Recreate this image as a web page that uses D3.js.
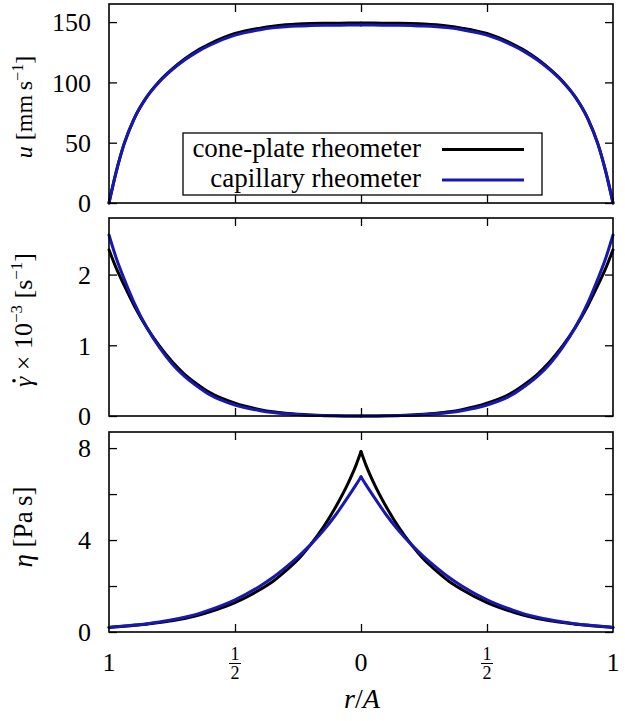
<!DOCTYPE html>
<html>
<head>
<meta charset="utf-8">
<script src="https://cdn.jsdelivr.net/npm/d3@7"></script>
<style>
  html, body { margin: 0; padding: 0; background: #fff; }
  svg { display: block; }
</style>
</head>
<body>
<svg id="chart" width="625" height="721" font-family="'Liberation Serif', 'DejaVu Serif', serif"></svg>
<script>
// ---------- DATA ----------
// signed position r/A: left edge = wall (1), centre = 0, right edge = wall (1)
const xs = [-1, -0.97, -0.94, -0.9, -0.85, -0.8, -0.75, -0.7, -0.65, -0.6, -0.5, -0.4, -0.35, -0.3, -0.25, -0.2, -0.15, -0.1, -0.05, -0.02, 0,
             0.02, 0.05, 0.1, 0.15, 0.2, 0.25, 0.3, 0.35, 0.4, 0.5, 0.6, 0.65, 0.7, 0.75, 0.8, 0.85, 0.9, 0.94, 0.97, 1];

// velocity u [mm/s]
const uCone = [0, 27, 49, 70, 88, 101, 111, 119.5, 126.5, 132, 140.5, 145, 146.6, 147.7, 148.4, 148.8, 149, 149.1, 149.2, 149.2, 149.2,
               149.2, 149.2, 149.1, 149, 148.8, 148.4, 147.7, 146.6, 145, 140.5, 132, 126.5, 119.5, 111, 101, 88, 70, 49, 27, 0];
const uCap  = [0, 27, 49, 70, 88, 100.5, 110.3, 118.5, 125.3, 130.8, 139.2, 143.7, 145.2, 146.2, 146.8, 147.1, 147.3, 147.4, 147.5, 147.5, 147.5,
               147.5, 147.5, 147.4, 147.3, 147.1, 146.8, 146.2, 145.2, 143.7, 139.2, 130.8, 125.3, 118.5, 110.3, 100.5, 88, 70, 49, 27, 0];

// shear rate gamma-dot x 10^-3 [1/s]
const gCone = [2.35, 2.08, 1.85, 1.56, 1.25, 0.99, 0.77, 0.59, 0.45, 0.33, 0.18, 0.09, 0.06, 0.04, 0.025, 0.015, 0.008, 0.003, 0.001, 0, 0,
               0, 0.001, 0.003, 0.008, 0.015, 0.025, 0.04, 0.06, 0.09, 0.18, 0.33, 0.45, 0.59, 0.77, 0.99, 1.25, 1.56, 1.85, 2.08, 2.35];
const gCap  = [2.56, 2.22, 1.94, 1.60, 1.25, 0.97, 0.74, 0.56, 0.42, 0.30, 0.155, 0.075, 0.05, 0.032, 0.02, 0.01, 0.005, 0.002, 0.001, 0, 0,
               0, 0.001, 0.002, 0.005, 0.01, 0.02, 0.032, 0.05, 0.075, 0.155, 0.30, 0.42, 0.56, 0.74, 0.97, 1.25, 1.60, 1.94, 2.22, 2.56];

// viscosity eta [Pa s]
const eCone = [0.2, 0.23, 0.25, 0.29, 0.34, 0.41, 0.49, 0.59, 0.72, 0.88, 1.28, 1.85, 2.2, 2.65, 3.15, 3.8, 4.55, 5.45, 6.5, 7.25, 7.85,
               7.25, 6.5, 5.45, 4.55, 3.8, 3.15, 2.65, 2.2, 1.85, 1.28, 0.88, 0.72, 0.59, 0.49, 0.41, 0.34, 0.29, 0.25, 0.23, 0.2];
const eCap  = [0.2, 0.23, 0.26, 0.3, 0.36, 0.44, 0.53, 0.64, 0.78, 0.96, 1.4, 2.0, 2.37, 2.8, 3.27, 3.8, 4.4, 5.1, 5.9, 6.4, 6.75,
               6.4, 5.9, 5.1, 4.4, 3.8, 3.27, 2.8, 2.37, 2.0, 1.4, 0.96, 0.78, 0.64, 0.53, 0.44, 0.36, 0.3, 0.26, 0.23, 0.2];

const seriesNames = ["cone-plate rheometer", "capillary rheometer"];
const seriesColors = ["#000000", "#1818b0"];

const xTicks = [-1, -0.5, 0, 0.5, 1];
const xTickLabels = ["1", "1/2", "0", "1/2", "1"];

const uTicks = [0, 50, 100, 150];
const gTicks = [0, 1, 2];
const eTicks = [0, 2, 4, 6, 8];
const eTickLabels = ["0", "", "4", "", "8"];

// ---------- LAYOUT ----------
const svg = d3.select("#chart");
const L = 109, R = 613;
const x = d3.scaleLinear().domain([-1, 1]).range([L, R]);

const panels = [
  { top: 4,   bottom: 203, domain: [0, 165], ticks: uTicks, labels: uTicks.map(String), data: [uCone, uCap] },
  { top: 218, bottom: 416, domain: [0, 2.8], ticks: gTicks, labels: gTicks.map(String), data: [gCone, gCap] },
  { top: 432, bottom: 632, domain: [0, 8.7], ticks: eTicks, labels: eTickLabels, data: [eCone, eCap] }
];

const TL = 8;       // tick length (inward)
const FS = 26;      // tick label font size

panels.forEach((p) => {
  const y = d3.scaleLinear().domain(p.domain).range([p.bottom, p.top]);
  const g = svg.append("g");

  // curves: draw as two halves so the centre can form a cusp
  p.data.forEach((vals, si) => {
    const pts = xs.map((xv, i) => [xv, vals[i]]);
    const leftHalf = pts.filter(d => d[0] <= 0);
    const rightHalf = pts.filter(d => d[0] >= 0);
    const line = d3.line().x(d => x(d[0])).y(d => y(d[1])).curve(d3.curveMonotoneX);
    [leftHalf, rightHalf].forEach(h => {
      g.append("path").attr("d", line(h))
        .attr("fill", "none").attr("stroke", seriesColors[si])
        .attr("stroke-width", 3).attr("stroke-linejoin", "miter").attr("stroke-linecap", "round");
    });
  });

  // ticks via d3 axes (inward), no domain line
  const axL = d3.axisLeft(y).tickValues(p.ticks).tickSize(-TL).tickFormat("");
  const axR = d3.axisRight(y).tickValues(p.ticks).tickSize(-TL).tickFormat("");
  const axT = d3.axisTop(x).tickValues(xTicks.slice(1, -1)).tickSize(-TL).tickFormat("");
  const axB = d3.axisBottom(x).tickValues(xTicks.slice(1, -1)).tickSize(-TL).tickFormat("");
  [[axL, `translate(${L},0)`], [axR, `translate(${R},0)`], [axT, `translate(0,${p.top})`], [axB, `translate(0,${p.bottom})`]]
    .forEach(([ax, tr]) => {
      const ga = g.append("g").attr("transform", tr).call(ax);
      ga.select(".domain").remove();
      ga.selectAll(".tick line").attr("stroke", "#000").attr("stroke-width", 1.3);
    });

  // frame
  g.append("rect").attr("x", L).attr("y", p.top).attr("width", R - L).attr("height", p.bottom - p.top)
    .attr("fill", "none").attr("stroke", "#000").attr("stroke-width", 1.6);

  // y tick labels
  p.ticks.forEach((t, i) => {
    if (!p.labels[i]) return;
    g.append("text").attr("x", 91).attr("y", y(t)).attr("dy", "0.36em")
      .attr("text-anchor", "end").attr("font-size", FS).text(p.labels[i]);
  });
});

// ---------- legend (top panel) ----------
const lg = svg.append("g");
lg.append("rect").attr("x", 183).attr("y", 133).attr("width", 359).attr("height", 62)
  .attr("fill", "#fff").attr("stroke", "#000").attr("stroke-width", 1.3);
seriesNames.forEach((name, i) => {
  const cy = 149.5 + i * 30.5;
  lg.append("text").attr("x", 421).attr("y", cy + 7).attr("text-anchor", "end")
    .attr("font-size", 27).text(name);
  lg.append("line").attr("x1", 442).attr("x2", 524).attr("y1", cy).attr("y2", cy)
    .attr("stroke", seriesColors[i]).attr("stroke-width", 3);
});

// ---------- x tick labels ----------
xTicks.forEach((t, i) => {
  const lab = xTickLabels[i];
  const cx = x(t);
  if (lab.includes("/")) {
    const [num, den] = lab.split("/");
    svg.append("text").attr("x", cx).attr("y", 660).attr("text-anchor", "middle").attr("font-size", 18).text(num);
    svg.append("line").attr("x1", cx - 6).attr("x2", cx + 6).attr("y1", 663.5).attr("y2", 663.5)
      .attr("stroke", "#000").attr("stroke-width", 1);
    svg.append("text").attr("x", cx).attr("y", 679).attr("text-anchor", "middle").attr("font-size", 18).text(den);
  } else {
    svg.append("text").attr("x", cx).attr("y", 671).attr("text-anchor", "middle").attr("font-size", FS).text(lab);
  }
});

// x axis title r/A
const xt = svg.append("text").attr("x", 362).attr("y", 708).attr("text-anchor", "middle").attr("font-size", 28);
xt.append("tspan").attr("font-style", "italic").text("r");
xt.append("tspan").text("/");
xt.append("tspan").attr("font-style", "italic").text("A");

// ---------- y axis titles (rotated, centred on the panel by measured box) ----------
function yTitle(cy, fs, build) {
  const g = svg.append("g").attr("transform", `translate(32,${cy}) rotate(-90)`);
  const inner = g.append("g");
  const t = inner.append("text").attr("x", 0).attr("y", 0).attr("text-anchor", "start").attr("font-size", fs);
  build(t, inner, fs);
  try {
    const bb = t.node().getBBox();
    inner.attr("transform", `translate(${-(bb.x + bb.width / 2)},0)`);
  } catch (e) {}
}
yTitle(107, 24, t => {
  t.append("tspan").attr("font-style", "italic").text("u");
  t.append("tspan").text(" [mm\u2009s");
  t.append("tspan").attr("font-size", 16).attr("dy", -9).text("\u22121");
  t.append("tspan").attr("dy", 9).text("]");
});
yTitle(320, 26, (t, g) => {
  t.append("tspan").attr("font-style", "italic").text("\u03B3");
  t.append("tspan").text(" \u00D7 10");
  t.append("tspan").attr("font-size", 17).attr("dy", -10).text("\u22123");
  t.append("tspan").attr("dy", 10).text(" [s");
  t.append("tspan").attr("font-size", 17).attr("dy", -10).text("\u22121");
  t.append("tspan").attr("dy", 10).text("]");
  // dot above gamma
  let ex;
  try { ex = t.node().getExtentOfChar(0); } catch (e) { ex = null; }
  const dx = ex ? ex.x + ex.width * 0.62 : 8;
  g.append("circle").attr("cx", dx).attr("cy", -18).attr("r", 1.8).attr("fill", "#000");
});
yTitle(527, 27, t => {
  t.append("tspan").attr("font-style", "italic").text("\u03B7");
  t.append("tspan").text(" [Pa\u2009s]");
});
</script>
</body>
</html>
